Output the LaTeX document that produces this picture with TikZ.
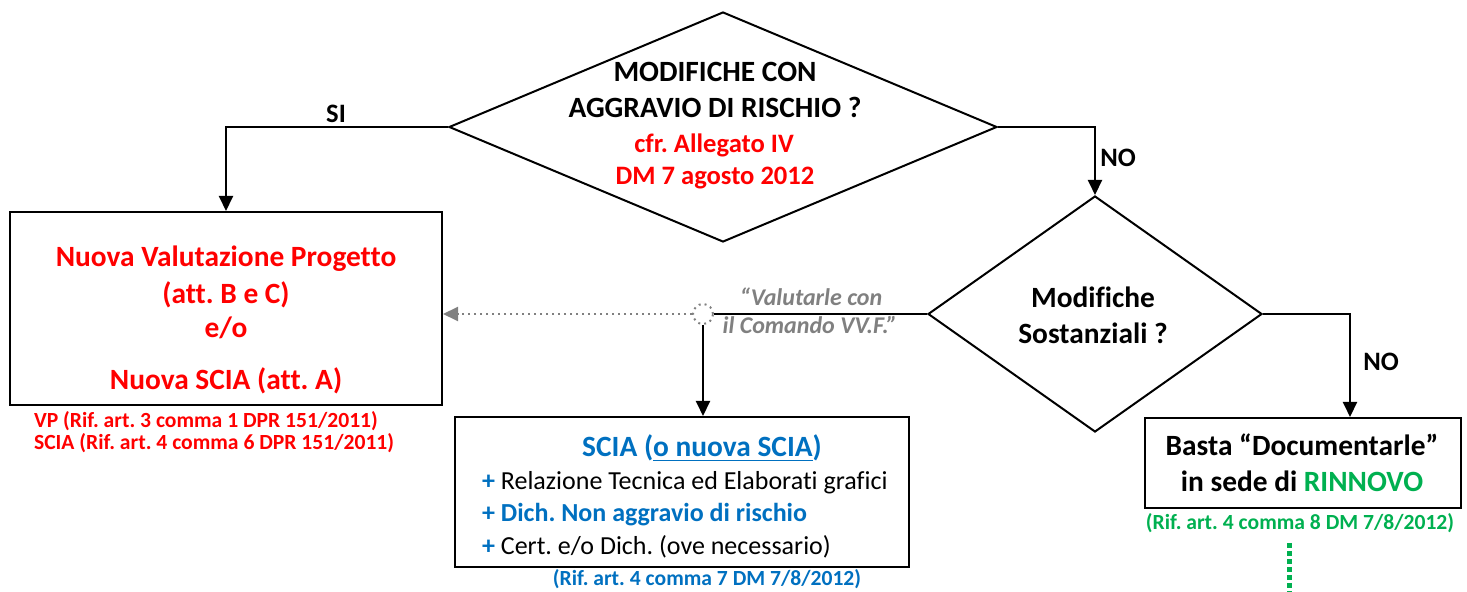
\documentclass[tikz,border=0pt]{standalone}
\usepackage{fontspec}
\setmainfont{Carlito}[Ligatures=NoCommon]
\usetikzlibrary{arrows.meta}
\usetikzlibrary{shapes.geometric}
\frenchspacing

\definecolor{rosso}{RGB}{255,0,0}
\definecolor{blu}{RGB}{0,112,192}
\definecolor{verde}{RGB}{0,176,80}
\definecolor{grigio}{RGB}{128,128,128}

\begin{document}
\begin{tikzpicture}[x=0.5pt,y=-0.5pt,>={Triangle[length=7.5pt,width=7pt]},
    rombo/.style={diamond,draw,line width=1pt,inner sep=0},
    riquadro/.style={rectangle,draw,line width=1pt,inner sep=0},
    freccia/.style={->,line width=1pt},
    grande/.style={font=\bfseries\fontsize{14.7}{17}\selectfont,anchor=base},
    medio/.style={font=\bfseries\fontsize{13.3}{16}\selectfont,anchor=base},
    voce/.style={font=\fontsize{13}{15}\selectfont,anchor=base west},
    rif/.style={font=\bfseries\fontsize{10.8}{12}\selectfont,anchor=base}]

\useasboundingbox (0,0) rectangle (1467,592);

% prima domanda
\node [rombo,minimum width=274pt,minimum height=115pt] (q1) at (723,127) {};
\node [grande] (q1a) at (715,82) {MODIFICHE CON};
\node [grande] (q1b) at (715,118) {AGGRAVIO DI RISCHIO ?};
\node [medio,text=rosso] (q1c) at (714,153) {cfr. Allegato IV};
\node [medio,text=rosso] (q1d) at (715,185) {DM 7 agosto 2012};

% ramo SI
\node [riquadro,minimum width=216pt,minimum height=96.5pt] (nvp) at (226,308.5) {};
\node [grande,text=rosso] (nvpa) at (226,267) {Nuova Valutazione Progetto};
\node [grande,text=rosso] (nvpb) at (226,304) {(att. B e C)};
\node [grande,text=rosso] (nvpc) at (226,338) {e/o};
\node [grande,text=rosso] (nvpd) at (226,390) {Nuova SCIA (att. A)};
\node [rif,text=rosso,anchor=base west] (rifvp) at (27,428) {VP (Rif. art. 3 comma 1 DPR 151/2011)};
\node [rif,text=rosso,anchor=base west] (rifscia) at (27,450) {SCIA (Rif. art. 4 comma 6 DPR 151/2011)};

\draw [freccia] (q1.west) -| (nvp.north);
\node [medio] (si) at (336,123) {SI};

% seconda domanda
\node [rombo,minimum width=167pt,minimum height=118pt] (q2) at (1095,314) {};
\node [grande] (q2a) at (1093,308) {Modifiche};
\node [grande] (q2b) at (1093,344) {Sostanziali ?};

\draw [freccia] (q1.east) -| (q2.north);
\node [medio] (no1) at (1118,167) {NO};

% ramo NO
\node [riquadro,minimum width=158pt,minimum height=45pt] (doc) at (1303,463) {};
\node [grande] (doca) at (1302,456) {Basta “Documentarle”};
\node [grande] (docb) at (1302,492) {in sede di \textcolor{verde}{RINNOVO}};
\node [rif,text=verde] (rifdoc) at (1300,530) {(Rif. art. 4 comma 8 DM 7/8/2012)};
\coordinate (fine) at (1289,592);

\draw [freccia] (q2.east) -| ([xshift=23.5pt]doc.north);
\node [medio] (no2) at (1381,371) {NO};
\draw [verde,line width=2.5pt,dash pattern=on 2.5pt off 1.5pt] (1289,543) -- (fine);

% ramo "valutarle"
\node [circle,draw=grigio,dotted,line width=1pt,minimum size=10pt,inner sep=0] (bivio) at (703,314) {};
\draw [line width=1pt] (q2.west) -- (bivio.east);
\draw [->,grigio,dotted,line width=1pt] (bivio.west) -- (bivio.west -| nvp.east);
\node [medio,text=grigio,font=\bfseries\itshape\fontsize{12}{14}\selectfont] (val1) at (811,306) {“Valutarle con};
\node [medio,text=grigio,font=\bfseries\itshape\fontsize{12}{14}\selectfont] (val2) at (810,334) {il Comando VV.F.”};

\node [riquadro,minimum width=227pt,minimum height=75pt] (scia) at (682,492) {};
\node [grande,text=blu] (sciaa) at (702,457) {SCIA (\underline{o nuova SCIA})};
\node [voce] (sciab) at (475,490) {\textcolor{blu}{\bfseries +} Relazione Tecnica ed Elaborati grafici};
\node [voce,text=blu,font=\bfseries\fontsize{13}{15}\selectfont] (sciac) at (475,522) {+ Dich. Non aggravio di rischio};
\node [voce] (sciad) at (475,555) {\textcolor{blu}{\bfseries +} Cert. e/o Dich. (ove necessario)};
\node [rif,text=blu] (rifscia2) at (707,586) {(Rif. art. 4 comma 7 DM 7/8/2012)};

\draw [freccia] (bivio.south) -- (bivio.south |- scia.north);
\end{tikzpicture}
\end{document}
